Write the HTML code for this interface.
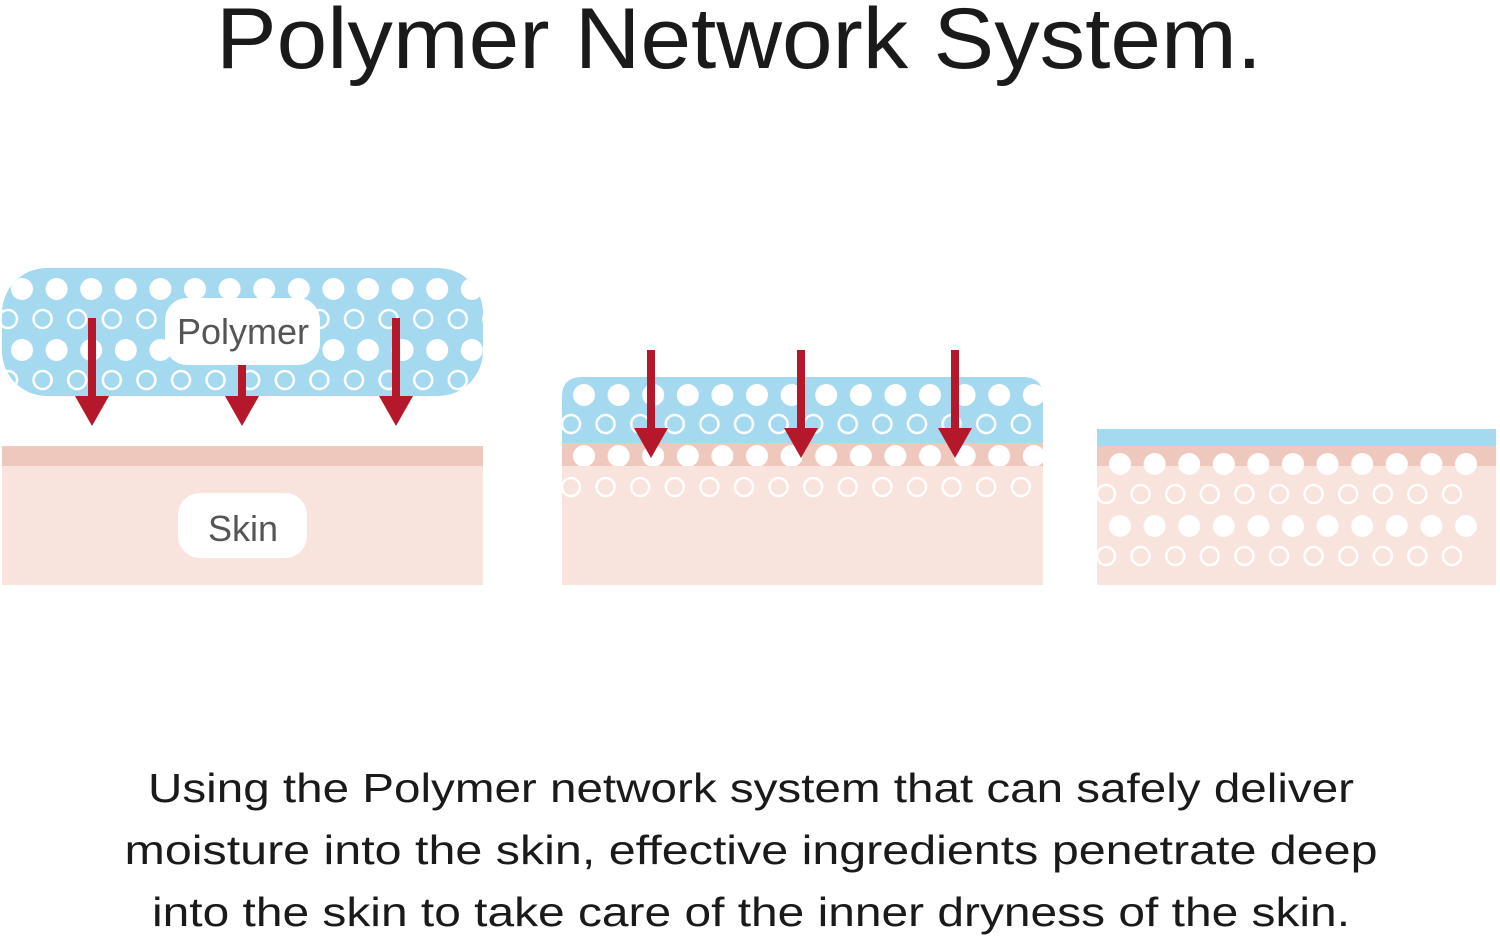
<!DOCTYPE html>
<html><head><meta charset="utf-8"><style>html,body{margin:0;padding:0;background:#fff;}svg{display:block}</style></head>
<body>
<svg width="1500" height="939" viewBox="0 0 1500 939" xmlns="http://www.w3.org/2000/svg">
<defs>
<clipPath id="c1"><rect x="2" y="268" width="481" height="128" rx="45"/></clipPath>
<clipPath id="c2"><path d="M562 466 V397 Q562 377 582 377 H1023 Q1043 377 1043 397 V466 Z"/></clipPath>
<pattern id="pf1" patternUnits="userSpaceOnUse" x="4.7" y="0" width="34.6" height="939"><circle cx="17.3" cy="289" r="11" fill="#fff"/><circle cx="17.3" cy="350" r="11" fill="#fff"/></pattern>
<pattern id="po1" patternUnits="userSpaceOnUse" x="-9.3" y="0" width="34.6" height="939"><circle cx="17.3" cy="319" r="9" fill="none" stroke="#fff" stroke-width="2.5"/><circle cx="17.3" cy="380" r="9" fill="none" stroke="#fff" stroke-width="2.5"/></pattern>
<pattern id="pf2" patternUnits="userSpaceOnUse" x="566.7" y="0" width="34.6" height="939"><circle cx="17.3" cy="395" r="11" fill="#fff"/><circle cx="17.3" cy="456" r="11" fill="#fff"/></pattern>
<pattern id="po2" patternUnits="userSpaceOnUse" x="553.7" y="0" width="34.6" height="939"><circle cx="17.3" cy="424" r="9" fill="none" stroke="#fff" stroke-width="2.5"/><circle cx="17.3" cy="487" r="9" fill="none" stroke="#fff" stroke-width="2.5"/></pattern>
<pattern id="pf3" patternUnits="userSpaceOnUse" x="1102.7" y="0" width="34.6" height="939"><circle cx="17.3" cy="464" r="11" fill="#fff"/><circle cx="17.3" cy="526" r="11" fill="#fff"/></pattern>
<pattern id="po3" patternUnits="userSpaceOnUse" x="1088.7" y="0" width="34.6" height="939"><circle cx="17.3" cy="494" r="9" fill="none" stroke="#fff" stroke-width="2.5"/><circle cx="17.3" cy="556" r="9" fill="none" stroke="#fff" stroke-width="2.5"/></pattern>
</defs>

<text x="739" y="68" text-anchor="middle" font-family="Liberation Sans, sans-serif" font-size="86" fill="#1a1a1a" textLength="1046" lengthAdjust="spacingAndGlyphs">Polymer Network System.</text>

<!-- Panel 1 -->
<rect x="2" y="268" width="481" height="128" rx="45" fill="#a5d9ef"/>
<g clip-path="url(#c1)">
<rect x="2" y="268" width="481" height="128" fill="url(#pf1)"/>
<rect x="2" y="268" width="481" height="128" fill="url(#po1)"/>
</g>
<rect x="165" y="298" width="155" height="67" rx="22" fill="#fff"/>
<text x="243" y="344" text-anchor="middle" font-family="Liberation Sans, sans-serif" font-size="36" fill="#555">Polymer</text>
<rect x="2" y="446" width="481" height="139" fill="#f8e3dd"/>
<rect x="2" y="446" width="481" height="20" fill="#efc8bd"/>
<rect x="178" y="493" width="129" height="65" rx="22" fill="#fff"/>
<text x="243" y="541" text-anchor="middle" font-family="Liberation Sans, sans-serif" font-size="36" fill="#555">Skin</text>
<g fill="#b5182b">
<rect x="88" y="318" width="8" height="80"/><path d="M75 396 H109 L92 426 Z"/>
<rect x="238" y="365" width="8" height="33"/><path d="M225 396 H259 L242 426 Z"/>
<rect x="392" y="318" width="8" height="80"/><path d="M379 396 H413 L396 426 Z"/>
</g>

<!-- Panel 2 -->
<rect x="562" y="443" width="481" height="142" fill="#f8e3dd"/>
<rect x="562" y="443" width="481" height="23" fill="#efc8bd"/>
<path d="M562 443 V397 Q562 377 582 377 H1023 Q1043 377 1043 397 V443 Z" fill="#a5d9ef"/>
<g clip-path="url(#c2)"><rect x="562" y="377" width="481" height="89" fill="url(#pf2)"/></g>
<rect x="562" y="377" width="481" height="208" fill="url(#po2)"/>
<g fill="#b5182b">
<rect x="647" y="350" width="8" height="80"/><path d="M634 428 H668 L651 458 Z"/>
<rect x="797" y="350" width="8" height="80"/><path d="M784 428 H818 L801 458 Z"/>
<rect x="951" y="350" width="8" height="80"/><path d="M938 428 H972 L955 458 Z"/>
</g>

<!-- Panel 3 -->
<rect x="1097" y="446" width="399" height="139" fill="#f8e3dd"/>
<rect x="1097" y="446" width="399" height="20" fill="#efc8bd"/>
<rect x="1097" y="429" width="399" height="17" fill="#a5d9ef"/>
<rect x="1097" y="446" width="383" height="139" fill="url(#pf3)"/>
<rect x="1097" y="446" width="370" height="139" fill="url(#po3)"/>

<g font-family="Liberation Sans, sans-serif" font-size="41" fill="#1a1a1a" text-anchor="middle">
<text x="751" y="802" textLength="1206" lengthAdjust="spacingAndGlyphs">Using the Polymer network system that can safely deliver</text>
<text x="751" y="864" textLength="1253" lengthAdjust="spacingAndGlyphs">moisture into the skin, effective ingredients penetrate deep</text>
<text x="751" y="926" textLength="1198" lengthAdjust="spacingAndGlyphs">into the skin to take care of the inner dryness of the skin.</text>
</g>
</svg>
</body></html>
